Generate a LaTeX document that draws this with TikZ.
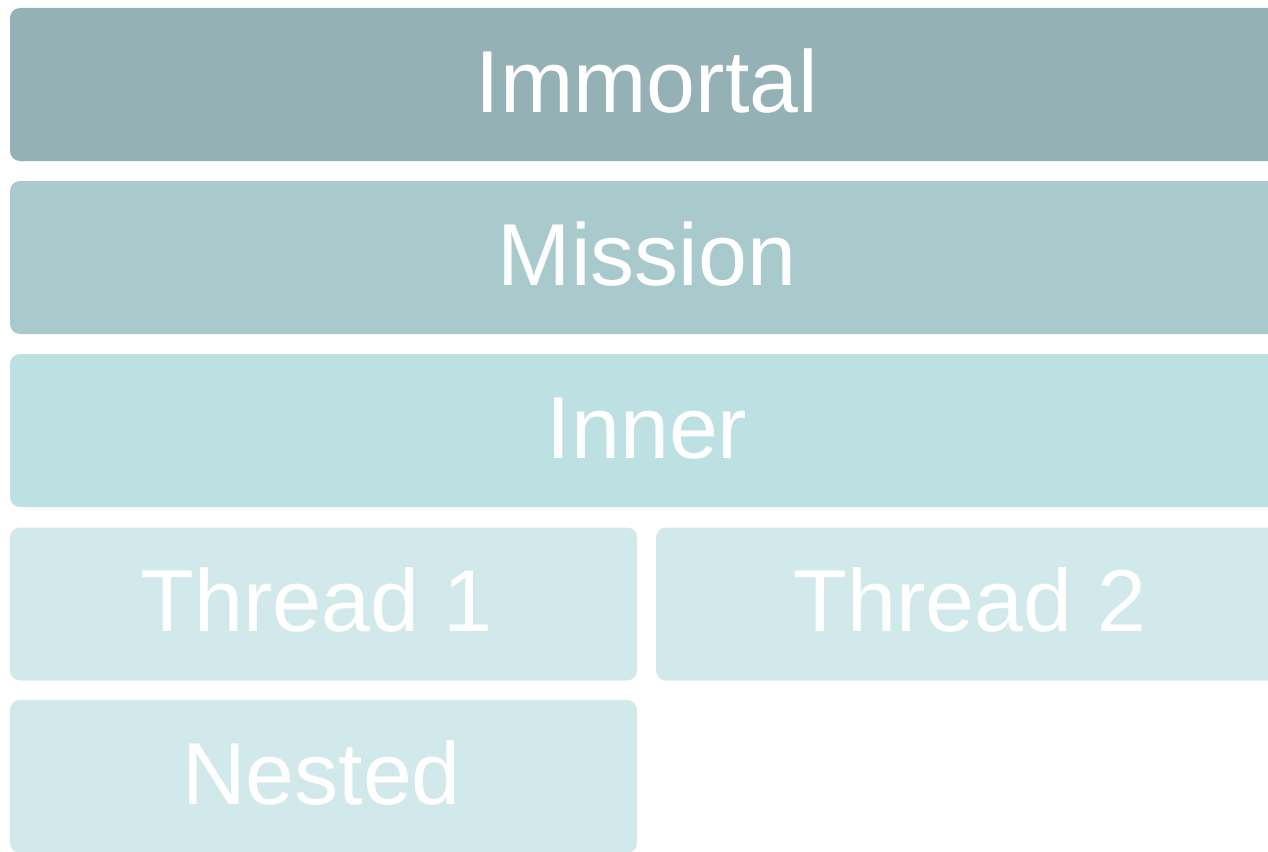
\documentclass[tikz,border=0pt]{standalone}
\usepackage{fontspec}
\setmainfont{Liberation Sans}
\definecolor{immortalc}{HTML}{94B1B5}
\definecolor{missionc}{HTML}{A9CACD}
\definecolor{innerc}{HTML}{BDE0E3}
\definecolor{threadc}{HTML}{D2E9EB}
\tikzset{
  band/.style={draw=none, rounded corners=10pt, inner sep=0pt, minimum height=153pt},
  caption/.style={text=white, inner sep=0pt, text height=63pt, text depth=0pt,
    font=\fontsize{88}{96}\selectfont},
}
\begin{document}
\begin{tikzpicture}[x=1pt,y=-1pt]
\useasboundingbox (0,0) rectangle (1268,851);
\clip (0,0) rectangle (1268,851);
% layered scopes, widest at the top
\node[band, fill=immortalc, minimum width=1274pt] (immortal) at (647,84.5) {};
\node[band, fill=missionc, minimum width=1274pt] (mission) at (647,257.5) {};
\node[band, fill=innerc, minimum width=1274pt] (inner) at (647,430.5) {};
\node[band, fill=threadc, minimum width=627pt] (thread1) at (323.5,604) {};
\node[band, fill=threadc, minimum width=628pt] (thread2) at (970,604) {};
\node[band, fill=threadc, minimum width=627pt] (nested) at (323.5,776.5) {};
% labels
\node[caption] (immortalt) at ([yshift=4pt]immortal.center) {Immortal};
\node[caption] (missiont) at ([yshift=4pt]mission.center) {Mission};
\node[caption] (innert) at ([yshift=4pt]inner.center) {Inner};
\node[caption] (thread1t) at ([xshift=-7pt,yshift=4pt]thread1.center) {Thread 1};
\node[caption] (thread2t) at ([yshift=4pt]thread2.center) {Thread 2};
\node[caption] (nestedt) at ([xshift=-2pt,yshift=4pt]nested.center) {Nested};
\end{tikzpicture}
\end{document}
